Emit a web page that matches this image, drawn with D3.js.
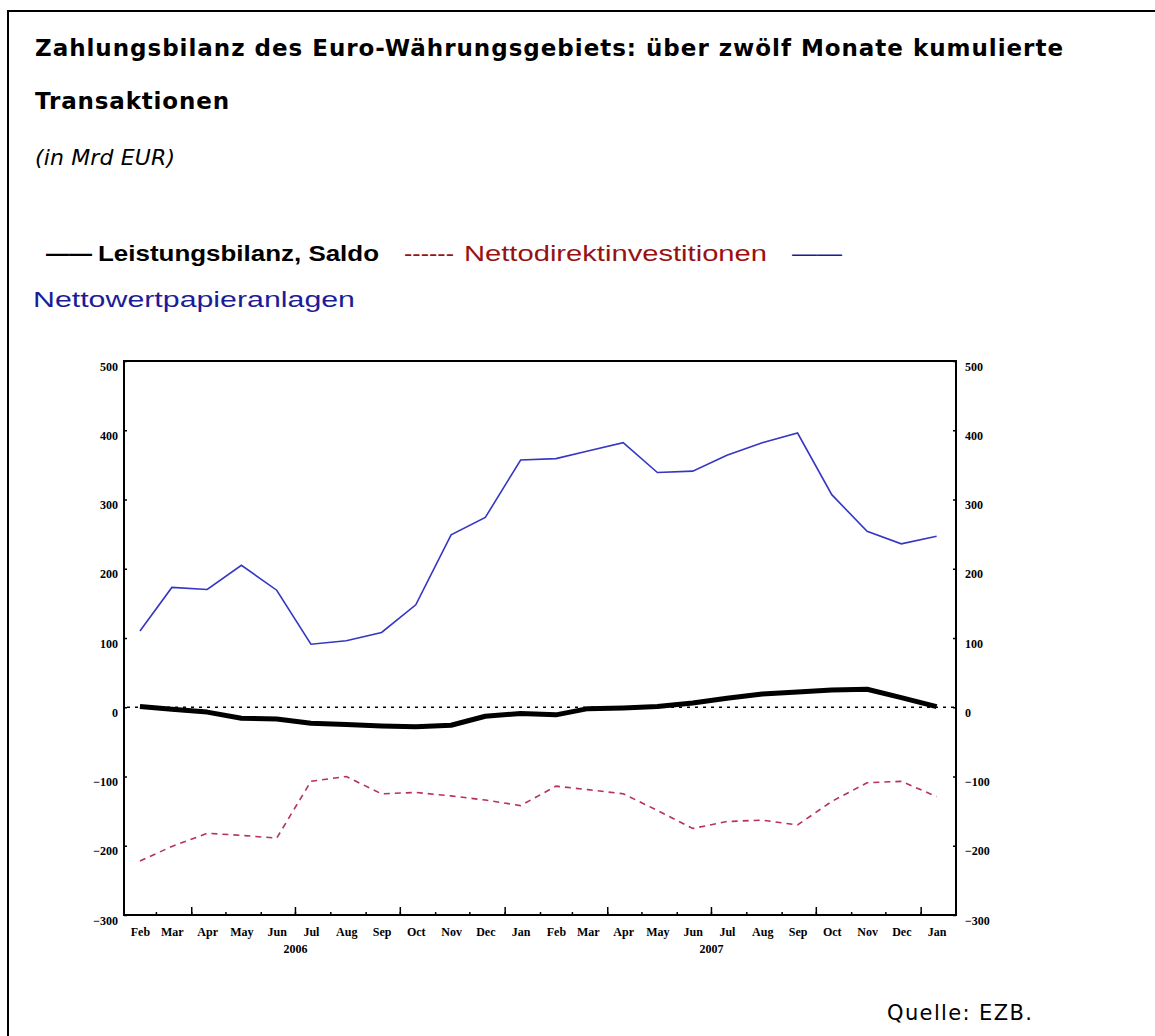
<!DOCTYPE html>
<html><head><meta charset="utf-8">
<script src="https://cdn.jsdelivr.net/npm/d3@7/dist/d3.min.js"></script>
<style>body{margin:0;background:#fff;overflow:hidden} svg{display:block}</style>
</head><body>
<svg id="c" width="1155" height="1036"></svg>
<script>
// ---- data ----
const months = ["2006-02","2006-03","2006-04","2006-05","2006-06","2006-07","2006-08","2006-09","2006-10","2006-11","2006-12","2007-01",
                "2007-02","2007-03","2007-04","2007-05","2007-06","2007-07","2007-08","2007-09","2007-10","2007-11","2007-12","2008-01"];
const monthLabels = ["Feb","Mar","Apr","May","Jun","Jul","Aug","Sep","Oct","Nov","Dec","Jan",
                     "Feb","Mar","Apr","May","Jun","Jul","Aug","Sep","Oct","Nov","Dec","Jan"];
const yearLabels = ["2006","2007"];
const yearAnchors = ["2006-07","2007-07"];
const leistungsbilanz = [1,-3,-7,-16,-17,-23,-25,-27,-28,-26,-13,-9,-11,-2,-1,1,6,13,19,22,25,26,14,1];
const direktinvestitionen = [-222,-201,-182,-185,-189,-107,-100,-125,-123,-128,-134,-142,-114,-119,-125,-149,-175,-165,-163,-170,-136,-109,-107,-129];
const wertpapieranlagen = [110,173,170,205,169,91,96,108,148,249,274,357,359,370,382,339,341,364,382,396,307,254,236,247];
const yTicks = [-300,-200,-100,0,100,200,300,400,500];

// ---- setup ----
const svg = d3.select("#c");
const parse = d3.timeParse("%Y-%m");
const starts = months.map(parse);
const mids = starts.map(d => d3.timeDay.offset(d, 14));
const x0 = starts[0], x1 = d3.timeMonth.offset(starts[starts.length-1], 1);
const L = 124, R = 956, T = 361, B = 915;
const x = d3.scaleTime().domain([x0, x1]).range([L, R]);
const y = d3.scaleLinear().domain([-300, 500]).range([B, T]);

// outer border
svg.append("rect").attr("x",8).attr("y",11).attr("width",1200).attr("height",1100)
  .attr("fill","none").attr("stroke","#000").attr("stroke-width",2);

// titles
const tfont = "'DejaVu Sans', sans-serif";
svg.append("text").attr("x",35).attr("y",56).attr("font-family",tfont).attr("font-weight","bold")
  .attr("font-size",23).attr("textLength",1028).text("Zahlungsbilanz des Euro-Währungsgebiets: über zwölf Monate kumulierte");
svg.append("text").attr("x",35).attr("y",109).attr("font-family",tfont).attr("font-weight","bold")
  .attr("font-size",23).attr("textLength",194).text("Transaktionen");
svg.append("text").attr("x",35).attr("y",165).attr("font-family",tfont).attr("font-style","italic")
  .attr("font-size",22).attr("textLength",140).text("(in Mrd EUR)");

// legend
const lfont = "'Liberation Sans Narrow','Liberation Sans', Arial, sans-serif";
function lt(xp, yp, w, txt, col, wt){
  svg.append("text").attr("x",xp).attr("y",yp).attr("font-family",lfont).attr("font-size",22)
    .attr("font-weight",wt||"normal").attr("fill",col).attr("textLength",w).attr("lengthAdjust","spacingAndGlyphs").text(txt);
}
lt(46,261,46,"——","#000","bold");
lt(98,261,281,"Leistungsbilanz, Saldo","#000","bold");
lt(404,261,50,"------","#991111");
lt(464,261,303,"Nettodirektinvestitionen","#991111");
lt(792,261,50,"——","#1c1c99");
lt(33,307,322,"Nettowertpapieranlagen","#1c1c99");

// source
svg.append("text").attr("x",887).attr("y",1020).attr("font-family",tfont).attr("font-size",21)
  .attr("textLength",145).text("Quelle: EZB.");

// plot frame
svg.append("rect").attr("x",L).attr("y",T).attr("width",R-L).attr("height",B-T)
  .attr("fill","none").attr("stroke","#000").attr("stroke-width",2);

const afont = "'Liberation Serif','Times New Roman', serif";
// y axes
const yl = svg.append("g").attr("transform",`translate(${L},0)`)
  .call(d3.axisLeft(y).tickValues(yTicks).tickSize(-3).tickPadding(6));
const yr = svg.append("g").attr("transform",`translate(${R},0)`)
  .call(d3.axisRight(y).tickValues(yTicks).tickSize(-3).tickPadding(9));
[yl, yr].forEach(g => {
  g.select(".domain").remove();
  g.selectAll("line").attr("stroke","#000").attr("stroke-width",1.5);
  g.selectAll("text").attr("font-family",afont).attr("font-size",12).attr("font-weight","bold").attr("fill","#000").attr("dy","0.75em");
});

// x axis ticks
const monthBounds = d3.timeMonth.range(x0, x1).slice(1);
const gx1 = svg.append("g").attr("transform",`translate(0,${B})`)
  .call(d3.axisBottom(x).tickValues(monthBounds).tickSize(-3).tickFormat(""));
const quarterBounds = monthBounds.filter(d => d.getMonth() % 3 === 0);
const gx2 = svg.append("g").attr("transform",`translate(0,${B})`)
  .call(d3.axisBottom(x).tickValues(quarterBounds).tickSize(-8).tickFormat(""));
[gx1,gx2].forEach(g => { g.select(".domain").remove(); g.selectAll("line").attr("stroke","#000").attr("stroke-width",1.5); });

const gx3 = svg.append("g").attr("transform",`translate(0,${B})`)
  .call(d3.axisBottom(x).tickValues(mids).tickSize(0).tickPadding(12).tickFormat((d,i)=>monthLabels[i]));
gx3.select(".domain").remove();
gx3.selectAll("text").attr("font-family",afont).attr("font-size",12).attr("font-weight","bold").attr("fill","#000");

const gx4 = svg.append("g").attr("transform",`translate(0,${B})`)
  .call(d3.axisBottom(x).tickValues(yearAnchors.map(parse)).tickSize(0).tickPadding(29).tickFormat((d,i)=>yearLabels[i]));
gx4.select(".domain").remove();
gx4.selectAll("text").attr("font-family",afont).attr("font-size",12).attr("font-weight","bold").attr("fill","#000");

// zero line
svg.append("line").attr("x1",L+3).attr("x2",R-2).attr("y1",y(0)).attr("y2",y(0))
  .attr("stroke","#000").attr("stroke-width",1.5).attr("stroke-dasharray","3,5");

// series
const line = d3.line().x((d,i)=>x(mids[i])).y(d=>y(d));
svg.append("path").datum(wertpapieranlagen).attr("d",line).attr("fill","none")
  .attr("stroke","#3636c4").attr("stroke-width",1.6);
svg.append("path").datum(direktinvestitionen).attr("d",line).attr("fill","none")
  .attr("stroke","#b8305e").attr("stroke-width",1.6).attr("stroke-dasharray","6,5");
svg.append("path").datum(leistungsbilanz).attr("d",line).attr("fill","none")
  .attr("stroke","#000").attr("stroke-width",5).attr("stroke-linejoin","round");
</script>
</body></html>
